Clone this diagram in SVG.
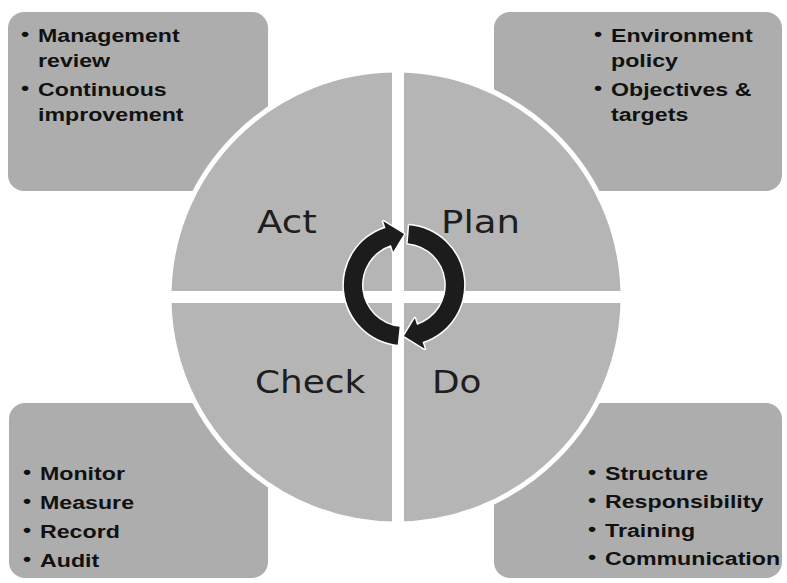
<svg xmlns="http://www.w3.org/2000/svg" width="787" height="583" viewBox="0 0 787 583">
  <defs>
    <style>
      .box { fill: #adadad; }
      .quad { fill: #b5b5b5; stroke: #ffffff; stroke-width: 5; }
      .gap { fill: #ffffff; }
      .item { font-family: "Liberation Sans", Arial, sans-serif; font-weight: bold; font-size: 19px; fill: #111111; }
      .phase { font-family: "DejaVu Sans", Verdana, sans-serif; font-size: 32px; fill: #1e1e1e; }
      .arrow { fill: #1c1c1c; stroke: #ffffff; stroke-width: 3; paint-order: stroke; stroke-linejoin: round; }
    </style>
  </defs>
  <rect width="787" height="583" fill="#ffffff"/>

  <!-- corner boxes -->
  <g id="act-box">
    <rect class="box" x="8" y="12" width="260" height="179" rx="16"/>
  </g>
  <g id="plan-box">
    <rect class="box" x="494" y="12" width="288" height="179" rx="16"/>
  </g>
  <g id="check-box">
    <rect class="box" x="9" y="403" width="259" height="175" rx="16"/>
  </g>
  <g id="do-box">
    <rect class="box" x="494" y="403" width="288" height="175" rx="16"/>
  </g>

  <!-- central disc split into four quadrants -->
  <g id="cycle-disc">
    <circle class="quad" cx="396" cy="297" r="227"/>
    <rect class="gap" x="392" y="68" width="12" height="460"/>
    <rect class="gap" x="166" y="291" width="460" height="12"/>
  </g>

  <!-- box texts -->
  <g id="act-items" transform="translate(38,0) scale(1.22,1)">
    <text class="item" x="-14" y="40">•</text>
    <text class="item" x="0" y="42">Management</text>
    <text class="item" x="0" y="67">review</text>
    <text class="item" x="-14" y="94">•</text>
    <text class="item" x="0" y="96">Continuous</text>
    <text class="item" x="0" y="121">improvement</text>
  </g>
  <g id="plan-items" transform="translate(611,0) scale(1.22,1)">
    <text class="item" x="-14" y="40">•</text>
    <text class="item" x="0" y="42">Environment</text>
    <text class="item" x="0" y="67">policy</text>
    <text class="item" x="-14" y="94">•</text>
    <text class="item" x="0" y="96">Objectives &amp;</text>
    <text class="item" x="0" y="121">targets</text>
  </g>
  <g id="check-items" transform="translate(40,0) scale(1.22,1)">
    <text class="item" x="-14" y="478">•</text>
    <text class="item" x="0" y="480">Monitor</text>
    <text class="item" x="-14" y="507">•</text>
    <text class="item" x="0" y="509">Measure</text>
    <text class="item" x="-14" y="536">•</text>
    <text class="item" x="0" y="538">Record</text>
    <text class="item" x="-14" y="565">•</text>
    <text class="item" x="0" y="567">Audit</text>
  </g>
  <g id="do-items" transform="translate(605,0) scale(1.22,1)">
    <text class="item" x="-14" y="478">•</text>
    <text class="item" x="0" y="480">Structure</text>
    <text class="item" x="-14" y="506">•</text>
    <text class="item" x="0" y="508">Responsibility</text>
    <text class="item" x="-14" y="535">•</text>
    <text class="item" x="0" y="537">Training</text>
    <text class="item" x="-14" y="563">•</text>
    <text class="item" x="0" y="565">Communication</text>
  </g>

  <!-- phase labels -->
  <g id="act-label"><text class="phase" transform="translate(257,233) scale(1.16,1)">Act</text></g>
  <g id="plan-label"><text class="phase" transform="translate(441,233) scale(1.16,1)">Plan</text></g>
  <g id="check-label"><text class="phase" transform="translate(255,393) scale(1.12,1)">Check</text></g>
  <g id="do-label"><text class="phase" transform="translate(432,393) scale(1.12,1)">Do</text></g>

  <!-- circular arrows, clockwise -->
  <g id="cycle-arrows">
    <path class="arrow" d="M397.7,344.7 A60,60 0 0 1 385.5,227.9 L383.3,221.3 L404,234 L393.2,251.7 L391.0,245.1 A42,42 0 0 0 399.6,326.8 Z"/>
    <path class="arrow" d="M409.2,225.2 A60,60 0 0 1 422.5,342.1 L424.7,348.7 L404,336 L414.8,318.3 L417.0,324.9 A42,42 0 0 0 407.7,243.2 Z"/>
  </g>
</svg>
